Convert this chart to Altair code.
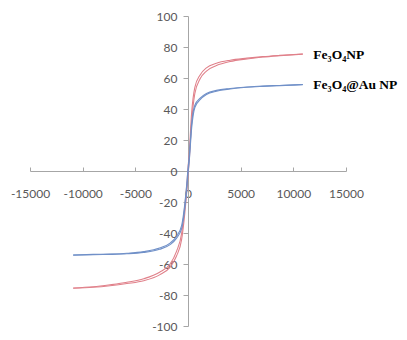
import altair as alt
import pandas as pd

# Applied field (Oe) grid
field = [-10900, -9000, -7400, -5800, -4200, -2700, -1700, -1100, -600, -300, -100,
         0, 100, 350, 650, 1150, 1750, 2700, 4000, 5600, 7100, 8700, 10900]

# Magnetization (emu/g) — Fe3O4 NP, descending and ascending branches
red_down = [-75.5, -74.7, -73.4, -71.8, -69.5, -65.3, -60.0, -52.0, -40.0, -22.0, -8.0,
            2.0, 10.0, 38.0, 54.0, 62.0, 66.5, 69.5, 71.5, 72.8, 73.8, 74.6, 75.5]
red_up = [-75.6, -75.0, -74.0, -72.6, -70.8, -67.0, -62.0, -55.0, -44.0, -27.0, -12.0,
          -3.0, 5.0, 32.0, 50.0, 59.5, 64.5, 68.0, 70.6, 72.3, 73.5, 74.4, 75.4]

# Fe3O4@Au NP, descending and ascending branches
blue_down = [-54.2, -53.8, -53.6, -53.1, -52.0, -49.7, -46.5, -42.3, -35.0, -21.0, -7.0,
             1.5, 8.0, 31.0, 42.5, 47.0, 50.0, 52.0, 53.2, 54.2, 54.8, 55.2, 55.8]
blue_up = [-54.3, -54.0, -53.8, -53.4, -52.5, -50.5, -47.5, -43.5, -37.0, -24.0, -10.0,
           -1.5, 5.0, 28.0, 41.0, 46.0, 49.3, 51.5, 52.9, 54.0, 54.6, 55.1, 55.7]

series_names = ["Fe₃O₄NP", "Fe₃O₄@Au NP"]
series_colors = ["#e0808a", "#7090c8"]
label_x = [11900, 11900]
label_y = [75.0, 55.5]

x_ticks = [-15000, -10000, -5000, 0, 5000, 10000, 15000]
y_ticks = [-100, -80, -60, -40, -20, 0, 20, 40, 60, 80, 100]

rows = []
for name, down, up in [(series_names[0], red_down, red_up),
                       (series_names[1], blue_down, blue_up)]:
    for branch, vals in (("down", down), ("up", up)):
        for h, m in zip(field, vals):
            rows.append({"series": name, "branch": name + branch, "H": h, "M": m})
df = pd.DataFrame(rows)

lab_df = pd.DataFrame({"label": series_names, "x": label_x, "y": label_y})

W, H = 316, 310
AX = "#a6a6a6"
LBL = "#595959"
LABEL_EXPR = "'' + datum.value"

xs = alt.Scale(domain=[-15000, 15000], nice=False, zero=False)
ys = alt.Scale(domain=[-100, 100], nice=False, zero=False)

y_axis = alt.Axis(
    orient="left", offset=-W / 2, values=y_ticks, tickSize=5, labelPadding=6,
    domainColor=AX, tickColor=AX, labelColor=LBL, labelFont="Lato",
    labelFontSize=12, grid=False, title=None, labelFlush=False,
    labelOverlap=False, labelExpr=LABEL_EXPR)

lines = alt.Chart(df).mark_line(strokeWidth=1.1, interpolate="monotone").encode(
    x=alt.X("H:Q", scale=xs, axis=alt.Axis(
        orient="bottom", offset=-H / 2, values=x_ticks, ticks=False, tickSize=0,
        labelPadding=17, domainColor=AX, labelColor=LBL, labelFont="Lato",
        labelFontSize=12, grid=False, title=None, labelFlush=False,
        labelOverlap=False, labelExpr=LABEL_EXPR)),
    y=alt.Y("M:Q", scale=ys, axis=y_axis),
    color=alt.Color("series:N", scale=alt.Scale(domain=series_names, range=series_colors),
                    legend=None),
    detail="branch:N",
)

labels = alt.Chart(lab_df).mark_text(
    align="left", baseline="middle", font="Liberation Serif", fontWeight="bold",
    fontSize=13.5, color="black"
).encode(
    x=alt.X("x:Q", scale=xs, axis=alt.Axis(
        orient="top", offset=-H / 2, values=x_ticks, labels=False, domain=False,
        ticks=True, tickSize=4, tickColor=AX, grid=False, title=None)),
    y=alt.Y("y:Q", scale=ys, axis=y_axis),
    text="label:N",
)

chart = alt.layer(lines, labels).resolve_axis(x="independent").properties(
    width=W, height=H,
    padding={"left": 22, "top": 8, "right": 53, "bottom": 6},
    autosize=alt.AutoSizeParams(type="none"),
).configure_view(stroke=None)

chart.save("out.html", embed_options={"renderer": "svg", "actions": False})
